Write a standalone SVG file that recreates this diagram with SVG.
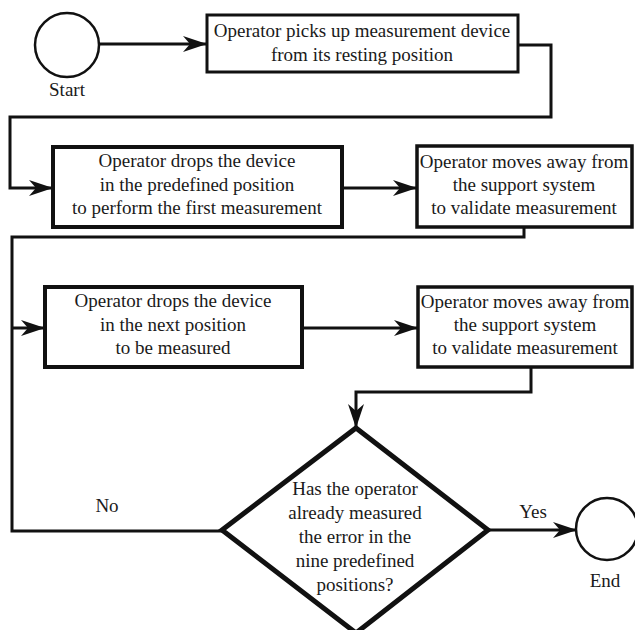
<svg xmlns="http://www.w3.org/2000/svg" width="635" height="630" viewBox="0 0 635 630">
<style>
text{font-family:"Liberation Serif","Times New Roman",serif;font-size:19px;fill:#1a1a1a;text-anchor:middle}
.box{fill:#fff;stroke:#111}
.conn{fill:none;stroke:#111;stroke-width:3}
</style>
<defs>
<marker id="arr" markerUnits="userSpaceOnUse" markerWidth="26" markerHeight="18" refX="24" refY="8" orient="auto">
<path d="M0,0 L24,8 L0,16 L7,8 z" fill="#111"/>
</marker>
</defs>
<rect width="635" height="630" fill="#fff"/>
<g id="connectors">
<line class="conn" x1="99" y1="44" x2="207" y2="44" marker-end="url(#arr)"/>
<polyline class="conn" points="518,45 551,45 551,117 10,117 10,188 53,188" marker-end="url(#arr)"/>
<line class="conn" x1="342" y1="188" x2="417" y2="188" marker-end="url(#arr)"/>
<polyline class="conn" points="524,227 524,237 12,237 12,531 222,531"/>
<line class="conn" x1="12" y1="328" x2="45" y2="328" marker-end="url(#arr)"/>
<line class="conn" x1="302" y1="328" x2="418" y2="328" marker-end="url(#arr)"/>
<polyline class="conn" points="531,367 531,392 356,392 356,428" marker-end="url(#arr)"/>
<line class="conn" x1="488" y1="530" x2="577" y2="530" marker-end="url(#arr)"/>
</g>
<g id="start">
<circle cx="67" cy="45" r="32" fill="#fff" stroke="#111" stroke-width="2.5"/>
<text x="67" y="96">Start</text>
</g>
<g id="box1">
<rect class="box" x="207" y="15" width="311" height="57" stroke-width="3"/>
<text x="362" y="37">Operator picks up measurement device</text>
<text x="362" y="61">from its resting position</text>
</g>
<g id="box2">
<rect class="box" x="53" y="147" width="289" height="80" stroke-width="4"/>
<text x="197" y="167">Operator drops the device</text>
<text x="197" y="191">in the predefined position</text>
<text x="197" y="214">to perform the first measurement</text>
</g>
<g id="box3">
<rect class="box" x="417" y="146" width="215" height="81" stroke-width="3.5"/>
<text x="524" y="168">Operator moves away from</text>
<text x="524" y="191">the support system</text>
<text x="524" y="214">to validate measurement</text>
</g>
<g id="box4">
<rect class="box" x="45" y="287" width="257" height="80" stroke-width="4"/>
<text x="173" y="307">Operator drops the device</text>
<text x="173" y="331">in the next position</text>
<text x="173" y="354">to be measured</text>
</g>
<g id="box5">
<rect class="box" x="418" y="287" width="214" height="80" stroke-width="3.5"/>
<text x="525" y="308">Operator moves away from</text>
<text x="525" y="331">the support system</text>
<text x="525" y="354">to validate measurement</text>
</g>
<g id="decision">
<polygon points="356,428 488,530 356,633 222,530" fill="#fff" stroke="#111" stroke-width="5" stroke-linejoin="miter"/>
<text x="355" y="495">Has the operator</text>
<text x="355" y="519">already measured</text>
<text x="355" y="543">the error in the</text>
<text x="355" y="567">nine predefined</text>
<text x="355" y="591">positions?</text>
</g>
<text x="107" y="512">No</text>
<text x="533" y="518">Yes</text>
<g id="end">
<circle cx="607" cy="529" r="31" fill="#fff" stroke="#111" stroke-width="2.5"/>
<text x="605" y="587">End</text>
</g>
</svg>
